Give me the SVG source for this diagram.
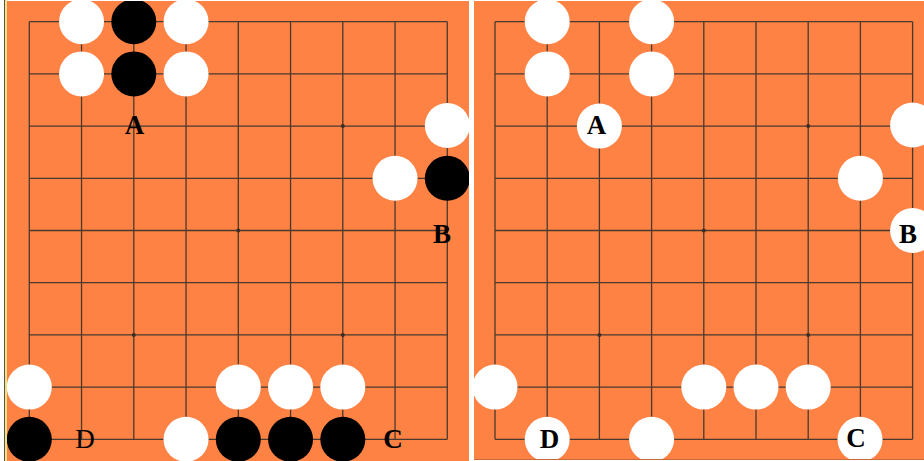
<svg xmlns="http://www.w3.org/2000/svg" width="924" height="461" viewBox="0 0 924 461">
<style>
.board{fill:#FD8244}
.grid{fill:none;stroke:#4a3a2e;stroke-width:1.3}
.star{fill:#3a2e26}
.w{fill:#ffffff}
.b{fill:#000000}
.lbl{font-family:"Liberation Serif","Times New Roman",serif;font-size:27px;font-weight:bold;fill:#000;text-anchor:middle}
.lblr{font-family:"Liberation Serif","Times New Roman",serif;font-size:27px;font-weight:normal;fill:#000;text-anchor:middle}
</style>
<defs>
<clipPath id="clipL"><rect x="7" y="1" width="462" height="460"/></clipPath>
<clipPath id="clipR"><rect x="474" y="1" width="450" height="458"/></clipPath>
</defs>
<rect x="0" y="0" width="924" height="461" fill="#ffffff"/>
<g id="board-left">
<rect class="board" x="7" y="1" width="462" height="460"/>
<line x1="4.5" y1="0" x2="4.5" y2="461" stroke="#555" stroke-width="1"/>
<line x1="6" y1="0" x2="6" y2="461" stroke="#f4e27a" stroke-width="2"/>
<path class="grid" d="M29.3 21.7H447.3M29.3 73.9H447.3M29.3 126.1H447.3M29.3 178.3H447.3M29.3 230.5H447.3M29.3 282.7H447.3M29.3 334.9H447.3M29.3 387.1H447.3M29.3 439.3H447.3M29.3 21.7V439.3M81.55 21.7V439.3M133.8 21.7V439.3M186.05 21.7V439.3M238.3 21.7V439.3M290.55 21.7V439.3M342.8 21.7V439.3M395.05 21.7V439.3M447.3 21.7V439.3"/>
<circle class="star" cx="342.8" cy="126.1" r="2"/>
<circle class="star" cx="133.8" cy="334.9" r="2"/>
<circle class="star" cx="342.8" cy="334.9" r="2"/>
<circle class="star" cx="238.3" cy="230.5" r="2"/>
</g>
<g id="board-right">
<rect class="board" x="474" y="1" width="450" height="458"/>
<line x1="474" y1="459.5" x2="924" y2="459.5" stroke="#c9683a" stroke-width="1"/>
<path class="grid" d="M495 21.7H912.6M495 73.9H912.6M495 126.1H912.6M495 178.3H912.6M495 230.5H912.6M495 282.7H912.6M495 334.9H912.6M495 387.1H912.6M495 439.3H912.6M495 21.7V439.3M547.2 21.7V439.3M599.4 21.7V439.3M651.6 21.7V439.3M703.8 21.7V439.3M756 21.7V439.3M808.2 21.7V439.3M860.4 21.7V439.3M912.6 21.7V439.3"/>
<circle class="star" cx="808.2" cy="126.1" r="2"/>
<circle class="star" cx="599.4" cy="334.9" r="2"/>
<circle class="star" cx="808.2" cy="334.9" r="2"/>
<circle class="star" cx="703.8" cy="230.5" r="2"/>
</g>
<g id="stones-left" clip-path="url(#clipL)">
<g id="L-w-1-0"><circle class="w" cx="81.55" cy="21.7" r="22.5"/></g>
<g id="L-b-2-0"><circle class="b" cx="133.8" cy="21.7" r="22.5"/></g>
<g id="L-w-3-0"><circle class="w" cx="186.05" cy="21.7" r="22.5"/></g>
<g id="L-w-1-1"><circle class="w" cx="81.55" cy="73.9" r="22.5"/></g>
<g id="L-b-2-1"><circle class="b" cx="133.8" cy="73.9" r="22.5"/></g>
<g id="L-w-3-1"><circle class="w" cx="186.05" cy="73.9" r="22.5"/></g>
<g id="L-A"><text class="lbl" x="134.5" y="133.5">A</text></g>
<g id="L-w-8-2"><circle class="w" cx="447.3" cy="125.5" r="22.5"/></g>
<g id="L-w-7-3"><circle class="w" cx="395.05" cy="178.3" r="22.5"/></g>
<g id="L-b-8-3"><circle class="b" cx="447.3" cy="178.3" r="22.5"/></g>
<g id="L-B"><text class="lbl" x="442" y="242.5">B</text></g>
<g id="L-w-0-7"><circle class="w" cx="29.3" cy="387.1" r="22.5"/></g>
<g id="L-w-4-7"><circle class="w" cx="238.3" cy="387.1" r="22.5"/></g>
<g id="L-w-5-7"><circle class="w" cx="290.55" cy="387.1" r="22.5"/></g>
<g id="L-w-6-7"><circle class="w" cx="342.8" cy="387.1" r="22.5"/></g>
<g id="L-b-0-8"><circle class="b" cx="29.3" cy="439.3" r="22.5"/></g>
<g id="L-w-3-8"><circle class="w" cx="186.05" cy="439.3" r="22.5"/></g>
<g id="L-b-4-8"><circle class="b" cx="238.3" cy="439.3" r="22.5"/></g>
<g id="L-b-5-8"><circle class="b" cx="290.55" cy="439.3" r="22.5"/></g>
<g id="L-b-6-8"><circle class="b" cx="342.8" cy="439.3" r="22.5"/></g>
<g id="L-D"><text class="lblr" x="85" y="448">D</text></g>
<g id="L-C"><text class="lbl" x="393" y="448">C</text></g>
</g>
<g id="stones-right" clip-path="url(#clipR)">
<g id="R-w-1-0"><circle class="w" cx="547.2" cy="21.7" r="22.5"/></g>
<g id="R-w-3-0"><circle class="w" cx="651.6" cy="21.7" r="22.5"/></g>
<g id="R-w-1-1"><circle class="w" cx="547.2" cy="73.9" r="22.5"/></g>
<g id="R-w-3-1"><circle class="w" cx="651.6" cy="73.9" r="22.5"/></g>
<g id="R-A"><circle class="w" cx="599.4" cy="126.1" r="22.5"/><text class="lbl" x="596.5" y="133.5">A</text></g>
<g id="R-w-8-2"><circle class="w" cx="912.6" cy="125" r="22.5"/></g>
<g id="R-w-7-3"><circle class="w" cx="860.4" cy="178.3" r="22.5"/></g>
<g id="R-B"><circle class="w" cx="912.6" cy="230.5" r="22.5"/><text class="lbl" x="908" y="242.5">B</text></g>
<g id="R-w-0-7"><circle class="w" cx="495" cy="387.1" r="22.5"/></g>
<g id="R-w-4-7"><circle class="w" cx="703.8" cy="387.1" r="22.5"/></g>
<g id="R-w-5-7"><circle class="w" cx="756" cy="387.1" r="22.5"/></g>
<g id="R-w-6-7"><circle class="w" cx="808.2" cy="387.1" r="22.5"/></g>
<g id="R-D"><circle class="w" cx="547.2" cy="439.3" r="22.5"/><text class="lbl" x="549.5" y="448">D</text></g>
<g id="R-w-3-8"><circle class="w" cx="651.6" cy="439.3" r="22.5"/></g>
<g id="R-C"><circle class="w" cx="860" cy="439.3" r="22.5"/><text class="lbl" x="856" y="447">C</text></g>
</g>
</svg>
